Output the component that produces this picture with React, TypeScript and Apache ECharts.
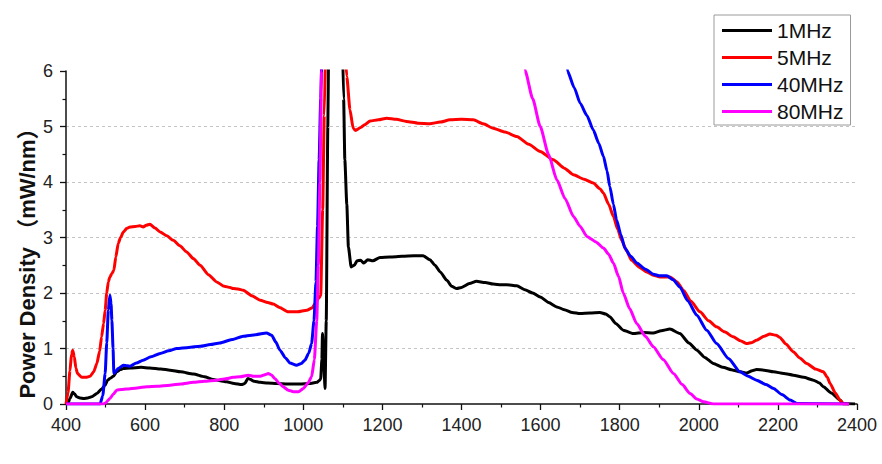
import React, { useEffect, useRef } from "react";
import * as echarts from "echarts";

// ---------- data (wavelength nm, power density mW/nm) ----------
const xTicks = [400, 600, 800, 1000, 1200, 1400, 1600, 1800, 2000, 2200, 2400];
const yTicks = [0, 1, 2, 3, 4, 5, 6];
const seriesNames = ["1MHz", "5MHz", "40MHz", "80MHz"];

const wl1MHz = [400,405,410,417,422,427,435,445,455,465,478,490,499,505,511,520,528,537,545,562,590,612,640,663,690,722,750,772,790,806,825,844,852,860,867,875,891,910,933,960,992,1015,1034,1040,1044,1047,1048.5,1051,1055,1058,1062,1064,1080,1099,1102,1105,1110,1114,1121,1129,1136,1145,1153,1163,1176,1194,1219,1250,1280,1303,1320,1333,1346,1363,1375,1388,1400,1420,1438,1460,1480,1500,1514,1540,1560,1580,1599,1620,1641,1660,1680,1700,1725,1750,1765,1775,1790,1809,1834,1860,1885,1905,1927,1952,1975,1995,2015,2037,2060,2087,2105,2121,2135,2146,2165,2189,2215,2239,2265,2290,2305,2315,2335,2357,2365,2395];
const pd1MHz = [0,0.02,0.1,0.21,0.18,0.13,0.11,0.1,0.11,0.13,0.19,0.27,0.34,0.43,0.46,0.5,0.58,0.62,0.64,0.65,0.66,0.65,0.63,0.61,0.58,0.54,0.49,0.44,0.42,0.4,0.37,0.35,0.37,0.46,0.44,0.41,0.39,0.38,0.37,0.36,0.36,0.37,0.39,0.42,0.45,0.8,1.27,0.9,0.28,1.5,5,6.5,null,6.5,5.5,4.4,3.6,2.83,2.47,2.5,2.58,2.59,2.54,2.6,2.58,2.64,2.65,2.66,2.67,2.67,2.6,2.5,2.38,2.23,2.12,2.08,2.1,2.17,2.21,2.19,2.16,2.15,2.15,2.13,2.06,2.0,1.93,1.83,1.75,1.7,1.65,1.63,1.64,1.65,1.62,1.57,1.45,1.33,1.27,1.29,1.28,1.32,1.35,1.27,1.1,0.97,0.84,0.73,0.66,0.61,0.58,0.56,0.6,0.62,0.61,0.58,0.55,0.52,0.48,0.43,0.38,0.31,0.2,0.07,0.01,0];

const wl5MHz = [400,405,410,414,417,421,425,429,440,450,461,470,478,485,490,495,499,503,507,511,516,521,526,532,538,545,553,562,575,587,595,603,612,625,638,655,671,688,705,722,739,760,781,800,815,823,835,848,870,891,910,924,940,962,985,1009,1022,1030,1038,1044,1049,1053,1056,1080,1106,1110,1118,1126,1132,1145,1155,1169,1190,1211,1235,1261,1290,1320,1346,1371,1400,1430,1455,1480,1510,1540,1570,1599,1632,1660,1683,1710,1733,1750,1759,1772,1784,1795,1805,1818,1830,1850,1868,1885,1902,1927,1945,1961,1980,2003,2025,2045,2065,2087,2105,2121,2135,2146,2165,2180,2195,2205,2220,2239,2255,2273,2295,2315,2325,2332,2345,2357,2365,2380];
const pd5MHz = [0,0.2,0.6,0.9,0.97,0.85,0.65,0.55,0.48,0.48,0.5,0.58,0.73,0.95,1.21,1.45,1.69,2.0,2.2,2.29,2.35,2.41,2.65,2.89,3.0,3.1,3.16,3.19,3.2,3.21,3.19,3.22,3.24,3.17,3.1,3.03,2.95,2.85,2.74,2.62,2.5,2.33,2.2,2.12,2.1,2.08,2.07,2.05,1.95,1.87,1.83,1.8,1.74,1.66,1.66,1.69,1.73,1.81,1.9,1.95,3.5,5.2,6.3,null,6.3,5.9,5.3,4.97,4.93,4.98,5.03,5.1,5.12,5.15,5.13,5.09,5.06,5.05,5.08,5.12,5.13,5.12,5.05,4.97,4.9,4.82,4.68,4.55,4.4,4.25,4.13,4.05,3.98,3.88,3.8,3.6,3.38,3.15,2.95,2.75,2.59,2.46,2.38,2.32,2.29,2.29,2.2,2.05,1.85,1.66,1.5,1.39,1.3,1.21,1.14,1.09,1.11,1.15,1.22,1.26,1.24,1.2,1.08,0.94,0.83,0.73,0.63,0.58,0.48,0.37,0.2,0.07,0,0];

const wl40MHz = [400,486,493,499,503,507,511,514,516,519,521,525,532,545,555,562,578,595,615,638,660,680,710,739,765,789,820,848,880,907,920,930,941,955,966,983,995,1004,1014,1021,1027,1032,1036,1040,1044,1047,1300,1664,1668,1685,1700,1717,1733,1747,1759,1768,1775,1784,1792,1803,1813,1828,1843,1865,1885,1900,1919,1935,1952,1972,1995,2020,2045,2075,2104,2125,2146,2170,2189,2210,2231,2248,2380];
const pd40MHz = [0,0,0.15,0.55,1.1,1.69,1.96,1.8,1.51,1.0,0.55,0.58,0.64,0.7,0.69,0.68,0.74,0.79,0.85,0.91,0.96,1.0,1.02,1.04,1.07,1.1,1.16,1.22,1.25,1.28,1.24,1.12,0.97,0.83,0.74,0.7,0.73,0.79,0.92,1.09,1.5,2.2,3.2,4.4,5.5,6.3,null,6.3,6.0,5.7,5.42,5.2,4.94,4.7,4.46,4.2,3.92,3.6,3.32,3.05,2.81,2.66,2.54,2.43,2.34,2.31,2.31,2.24,2.11,1.86,1.6,1.33,1.09,0.82,0.58,0.5,0.43,0.35,0.28,0.17,0.07,0.01,0];

const wl80MHz = [400,494,500,511,520,528,540,553,580,604,630,663,690,722,750,781,800,823,840,861,875,891,905,911,920,928,938,949,962,975,988,1000,1012,1021,1028,1034,1038,1042,1046,1048,1300,1555,1561,1580,1599,1620,1641,1662,1683,1700,1717,1740,1759,1772,1784,1797,1809,1825,1843,1865,1885,1910,1936,1958,1978,1995,2012,2037,2380];
const pd80MHz = [0,0,0.02,0.1,0.18,0.25,0.26,0.27,0.29,0.31,0.32,0.34,0.36,0.39,0.41,0.43,0.45,0.48,0.49,0.52,0.5,0.5,0.53,0.55,0.52,0.46,0.38,0.31,0.25,0.22,0.22,0.28,0.38,0.49,0.8,1.5,2.5,4.0,6.0,6.5,null,6.5,6.0,5.5,5.0,4.5,4.04,3.7,3.38,3.2,3.02,2.92,2.81,2.7,2.54,2.3,2.0,1.72,1.45,1.22,1.03,0.8,0.55,0.35,0.19,0.09,0.04,0,0];

const colors = ["#000000", "#ff0000", "#0000ff", "#ff00ff"];

const toPairs = (xs: number[], ys: (number | null)[]) =>
  xs.map((x, i) => [x, ys[i] === null ? "-" : ys[i]]);

export default function App() {
  const ref = useRef<HTMLDivElement>(null);

  useEffect(() => {
    if (!ref.current) return;
    const chart = echarts.init(ref.current, undefined, { renderer: "svg" });
    const font = "'Liberation Sans', Arial, sans-serif";
    const datasets = [
      toPairs(wl1MHz, pd1MHz),
      toPairs(wl5MHz, pd5MHz),
      toPairs(wl40MHz, pd40MHz),
      toPairs(wl80MHz, pd80MHz),
    ];
    chart.setOption({
      animation: false,
      backgroundColor: "#ffffff",
      grid: { left: 66, right: 25, top: 71, bottom: 60, containLabel: false },
      legend: {
        orient: "vertical",
        left: 714,
        top: 15,
        data: seriesNames,
        icon: "rect",
        itemWidth: 50,
        itemHeight: 3,
        itemGap: 6,
        padding: [5, 7, 3, 8],
        borderColor: "#9a9a9a",
        borderWidth: 1,
        backgroundColor: "#ffffff",
        textStyle: { fontSize: 21, color: "#111", fontFamily: font },
      },
      xAxis: {
        type: "value",
        min: xTicks[0],
        max: xTicks[xTicks.length - 1],
        interval: 200,
        axisLine: { show: true, onZero: false, lineStyle: { color: "#111", width: 1.5 } },
        axisTick: { show: true, length: 6, lineStyle: { color: "#111", width: 1.3 } },
        minorTick: { show: true, splitNumber: 2, length: 3.5, lineStyle: { color: "#111", width: 1.2 } },
        splitLine: { show: false },
        axisLabel: {
          fontSize: 18,
          color: "#222",
          margin: 12,
          fontFamily: font,
          formatter: (v: number) => String(v),
        },
      },
      yAxis: {
        type: "value",
        min: yTicks[0],
        max: yTicks[yTicks.length - 1],
        interval: 1,
        axisLine: { show: true, lineStyle: { color: "#111", width: 1.5 } },
        axisTick: { show: true, length: 6, lineStyle: { color: "#111", width: 1.3 } },
        minorTick: { show: true, splitNumber: 2, length: 3.5, lineStyle: { color: "#111", width: 1.2 } },
        splitLine: {
          show: true,
          showMinLine: false,
          showMaxLine: false,
          lineStyle: { color: "#c4c4c4", type: [3, 3], width: 1 },
        },
        axisLabel: {
          fontSize: 18,
          color: "#222",
          margin: 13,
          fontFamily: font,
          formatter: (v: number) => String(v),
        },
      },
      graphic: [
        {
          type: "text",
          x: 27,
          y: 258,
          rotation: Math.PI / 2,
          style: {
            text: "Power Density （mW/nm）",
            font: "bold 22px 'Liberation Sans', Arial, 'Noto Sans CJK SC', sans-serif",
            fill: "#111",
            textAlign: "center",
            textVerticalAlign: "middle",
          },
        },
      ],
      series: seriesNames.map((name, i) => ({
        name,
        type: "line",
        data: datasets[i],
        showSymbol: false,
        symbol: "none",
        smooth: 0.2,
        smoothMonotone: "x",
        connectNulls: false,
        clip: true,
        lineStyle: { color: colors[i], width: 3 },
        itemStyle: { color: colors[i] },
        z: 2 + i,
      })),
    });
    return () => chart.dispose();
  }, []);

  return (
    <div
      ref={ref}
      style={{ position: "fixed", left: 0, top: 0, width: 882, height: 464 }}
    />
  );
}
